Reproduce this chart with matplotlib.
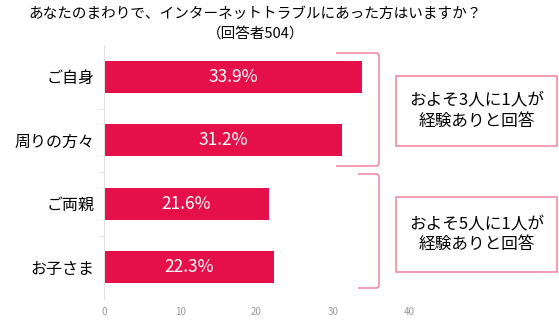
import matplotlib
matplotlib.use("Agg")
import matplotlib.pyplot as plt
from matplotlib.patches import Rectangle
from matplotlib.path import Path
from matplotlib.patches import PathPatch

plt.rcParams['font.family'] = ['Noto Sans CJK JP', 'DejaVu Sans']

# data
categories = ["ご自身", "周りの方々", "ご両親", "お子さま"]
values = [33.9, 31.2, 21.6, 22.3]
xticks = [0, 10, 20, 30, 40]
title_lines = ["あなたのまわりで、インターネットトラブルにあった方はいますか？", "（回答者504）"]
notes = ["およそ3人に1人が\n経験ありと回答", "およそ5人に1人が\n経験ありと回答"]

W, H = 559, 322
bar_color = "#e5104a"
pink = "#f2839f"

fig = plt.figure(figsize=(W / 100, H / 100), dpi=100)
fig.patch.set_facecolor("white")
ax = fig.add_axes([104 / W, 23 / H, 305 / W, 254 / H])

ypos = list(range(len(categories)))
ax.barh(ypos, values, height=0.5, color=bar_color)
for y, v in zip(ypos, values):
    ax.text(v / 2, y, f"{v}%", color="white", ha="center", va="center", fontsize=12.5)

ax.set_xlim(0, 40)
ax.set_ylim(3.5, -0.5)
ax.set_xticks(xticks)
ax.set_xticklabels([str(t) for t in xticks], fontsize=7, color="#999999")
ax.set_yticks(ypos)
ax.set_yticklabels(categories, fontsize=11.5)
ax.set_yticks([0.5, 1.5, 2.5], minor=True)
ax.tick_params(axis="y", which="major", length=0, pad=7)
ax.tick_params(axis="y", which="minor", length=4, color="#e0e0e0")
ax.tick_params(axis="x", length=0, pad=6)
for s in ["top", "right", "bottom"]:
    ax.spines[s].set_visible(False)
ax.spines["left"].set_color("#e0e0e0")


def px(x, y):
    return (x / W, 1 - y / H)


def bracket(x0, x1, top, bottom, r=3):
    verts = [px(x0, top), px(x1 - r, top), px(x1, top), px(x1, top + r),
             px(x1, bottom - r), px(x1, bottom), px(x1 - r, bottom), px(x0, bottom)]
    codes = [Path.MOVETO, Path.LINETO, Path.CURVE3, Path.CURVE3,
             Path.LINETO, Path.CURVE3, Path.CURVE3, Path.LINETO]
    fig.patches.append(PathPatch(Path(verts, codes), transform=fig.transFigure,
                                 fill=False, edgecolor=pink, lw=1.1))


bracket(336, 379, 53, 166)
bracket(358, 379, 174, 288)

for note, (top, bottom) in zip(notes, [(76, 146), (197, 272)]):
    fig.patches.append(Rectangle(px(396, bottom), 161 / W, (bottom - top) / H,
                                 transform=fig.transFigure, fill=False,
                                 edgecolor=pink, lw=1.1))
    fig.text(477 / W, 1 - (top + bottom) / 2 / H, note, ha="center", va="center",
             fontsize=12, linespacing=1.25)

fig.text(255 / W, 1 - 14 / H, title_lines[0], ha="center", va="center", fontsize=10.5)
fig.text(256 / W, 1 - 34 / H, title_lines[1], ha="center", va="center", fontsize=10.5)

fig.savefig("out.png", dpi=100)
